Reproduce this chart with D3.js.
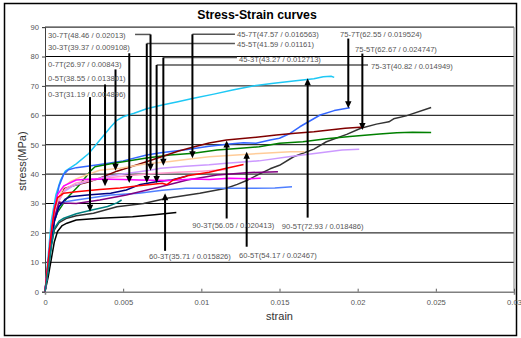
<!DOCTYPE html>
<html>
<head>
<meta charset="utf-8">
<script src="https://cdn.jsdelivr.net/npm/d3@7"></script>
<style>
  html, body { margin: 0; padding: 0; background: #fff; }
  svg { display: block; }
</style>
</head>
<body>
<svg id="chart" width="521" height="338"></svg>
<script>
// ---- measured curves: [strain, stress (MPa)] ----
const c0_3T = [[0,0],[0.0002,7],[0.0004,15],[0.0006,21.5],[0.0009,24],[0.0012,25],[0.002,26.5],[0.003,27.8],[0.004,29],[0.0046,30.2],[0.0049,31.19]];
const c0_5T = [[0,0],[0.0002,10],[0.0004,20],[0.0006,28],[0.0008,33],[0.0012,36],[0.002,38],[0.003,38.3],[0.005,38.2],[0.006,38],[0.008,37.8],[0.0095,38.3],[0.0105,38.2],[0.0118,38.6],[0.013,38.4],[0.0138,38.55]];
const c0_7T = [[0,0],[0.0002,5],[0.0004,11],[0.0006,17],[0.0008,20.5],[0.0011,22.5],[0.0014,23.3],[0.002,24.4],[0.0035,25],[0.0056,25.5],[0.007,26.2],[0.0084,26.97]];
const c30_3T = [[0,0],[0.0002,8],[0.0004,17],[0.0006,24],[0.0009,29],[0.0013,31.5],[0.0016,32.3],[0.0027,32.9],[0.0042,33.5],[0.0052,34.6],[0.0061,36.5],[0.0073,37.6],[0.0081,38],[0.0091,39.37]];
const c30_7T = [[0,0],[0.0003,13],[0.0006,25],[0.0009,31],[0.0012,34],[0.0018,36],[0.0027,37.5],[0.0038,39],[0.005,40],[0.0067,41.3],[0.0074,42],[0.009,42.7],[0.0105,43.2],[0.0116,43.7],[0.0137,44.5],[0.0157,46],[0.0175,47.2],[0.019,48.2],[0.0201,48.46]];
const c45_3T = [[0,0],[0.0002,10],[0.0004,20],[0.0006,28],[0.0008,32],[0.0012,33.5],[0.002,34],[0.0035,34.8],[0.0048,35.3],[0.006,36],[0.0075,36.9],[0.0078,36.4],[0.0082,38],[0.0091,39.4],[0.0105,40.6],[0.0116,42],[0.0127,43.27]];
const c45_5T = [[0,0],[0.0003,13],[0.0006,25],[0.0009,31],[0.0013,35],[0.002,37],[0.003,38],[0.0045,39],[0.0065,40],[0.0085,40.6],[0.01,41],[0.0116,41.59]];
const c45_7T = [[0,0],[0.0003,13],[0.0006,26],[0.0009,32],[0.0012,35.7],[0.0016,37.4],[0.0023,39],[0.0035,41.3],[0.0048,42],[0.0065,43.5],[0.008,44.3],[0.0094,45.2],[0.0105,45.9],[0.012,46.4],[0.0137,47],[0.0157,47.6],[0.0166,47.57]];
const c60_3T = [[0,0],[0.0002,8],[0.0004,17],[0.0006,24],[0.0009,29],[0.0012,30.5],[0.002,31.2],[0.0042,32.9],[0.006,33.5],[0.0075,34.5],[0.009,35.2],[0.011,35.2],[0.013,35.2],[0.0147,35.3],[0.0158,35.71]];
const c60_5T = [[0,0],[0.0003,12],[0.0006,24],[0.0008,27],[0.0014,31.8],[0.0022,36.3],[0.0029,41],[0.0032,42.5],[0.0042,43.5],[0.005,44.2],[0.0065,45.5],[0.008,46.5],[0.0095,47.1],[0.011,48.2],[0.0125,48.8],[0.0137,49.3],[0.015,50.5],[0.0165,51],[0.018,52],[0.0195,52.8],[0.0214,53.6],[0.0225,54.1],[0.0235,54.2],[0.0247,54.17]];
const c75_3T = [[0,0],[0.0002,9],[0.0004,18],[0.0006,25],[0.0009,30.5],[0.0012,30.2],[0.002,30],[0.0035,31.2],[0.0052,32.9],[0.0074,35.7],[0.0091,38],[0.011,39.7],[0.0129,40.5],[0.0149,40.82]];
const c75_5T = [[0,0],[0.0002,8],[0.0004,16],[0.0006,21],[0.0009,23.5],[0.0014,25],[0.002,25.8],[0.0031,26.7],[0.0046,28.9],[0.0063,30],[0.0078,31.8],[0.0099,33.5],[0.0116,35.2],[0.0123,36.5],[0.0129,37.8],[0.0137,40],[0.0144,41.8],[0.015,43],[0.0159,45.9],[0.0172,48.5],[0.018,51],[0.0193,53.5],[0.0202,55.6],[0.0212,57],[0.022,57.8],[0.0223,58.8],[0.0231,59.8],[0.0247,62.67]];
const c75_7T = [[0,0],[0.0003,15],[0.0006,28],[0.0009,36],[0.0012,40],[0.0015,41.5],[0.002,42.2],[0.0034,43.2],[0.005,44.5],[0.0065,46.5],[0.0074,47.3],[0.009,48.3],[0.0105,49.5],[0.0118,50.2],[0.0127,50.7],[0.0135,50.5],[0.0144,51.6],[0.015,52.2],[0.0157,53.9],[0.0163,56.1],[0.0176,60.1],[0.0185,61.6],[0.0195,62.55]];
const c90_3T = [[0,0],[0.0003,14],[0.0006,26],[0.0009,32],[0.0012,35],[0.0018,36],[0.0027,37.2],[0.0035,38.6],[0.0046,41],[0.0061,43.5],[0.0075,46],[0.0085,47.8],[0.0095,49.2],[0.0105,50.6],[0.0116,51.6],[0.0128,52.2],[0.0138,52.7],[0.0148,53.3],[0.016,53.9],[0.0172,54.4],[0.0182,55],[0.0192,55.6],[0.0204,56.05]];
const c90_5T = [[0,0],[0.0002,12],[0.0004,24],[0.0007,33],[0.001,38],[0.0013,41],[0.002,43.5],[0.0028,47],[0.0035,51.5],[0.0042,56],[0.0046,58.3],[0.005,59.5],[0.0057,60.7],[0.0065,62.2],[0.0075,63.5],[0.0085,64.6],[0.0095,65.8],[0.0108,67.2],[0.012,68.6],[0.0133,70],[0.0145,70.8],[0.0159,71.7],[0.0172,72.4],[0.0178,73.1],[0.0183,73.3],[0.0185,72.9]];

// axis ticks
const xTicks = [0, 0.005, 0.01, 0.015, 0.02, 0.025, 0.03];
const xTickLabels = ["0", "0.005", "0.01", "0.015", "0.02", "0.025", "0.03"];
const yTicks = [0, 10, 20, 30, 40, 50, 60, 70, 80, 90];

// annotation texts
const labelTexts = {
  "30-7T": "30-7T(48.46 / 0.02013)",
  "30-3T": "30-3T(39.37 / 0.009108)",
  "0-7T":  "0-7T(26.97 / 0.00843)",
  "0-5T":  "0-5T(38.55 / 0.013801)",
  "0-3T":  "0-3T(31.19 / 0.004896)",
  "45-7T": "45-7T(47.57 / 0.016563)",
  "45-5T": "45-5T(41.59 / 0.01161)",
  "45-3T": "45-3T(43.27 / 0.012713)",
  "75-7T": "75-7T(62.55 / 0.019524)",
  "75-5T": "75-5T(62.67 / 0.024747)",
  "75-3T": "75-3T(40.82 / 0.014949)",
  "90-3T": "90-3T(56.05 / 0.020413)",
  "90-5T": "90-5T(72.93 / 0.018486)",
  "60-3T": "60-3T(35.71 / 0.015826)",
  "60-5T": "60-5T(54.17 / 0.02467)"
};

// ---- drawing ----
const W = 521, H = 338;
const plot = { left: 45, right: 514, top: 27.1, bottom: 291.7 };

const x = d3.scaleLinear().domain([0, 0.03]).range([plot.left, plot.right]);
const y = d3.scaleLinear().domain([0, 90]).range([plot.bottom, plot.top]);

const svg = d3.select("#chart");
svg.append("rect").attr("x", 0).attr("y", 0).attr("width", W).attr("height", H).attr("fill", "#fff");
// chart frame
svg.append("rect").attr("x", 4.5).attr("y", 3.5).attr("width", 512).attr("height", 332)
  .attr("fill", "none").attr("stroke", "#000").attr("stroke-width", 1.5);

// title
svg.append("text").attr("x", 257).attr("y", 18.5).attr("text-anchor", "middle")
  .attr("font-family", "Liberation Sans, Arial, sans-serif").attr("font-weight", "bold")
  .attr("font-size", 12.3).attr("fill", "#000").text("Stress-Strain curves");

// horizontal grid
svg.append("g").selectAll("line").data(yTicks.filter(d => d > 0)).join("line")
  .attr("x1", plot.left).attr("x2", plot.right)
  .attr("y1", d => y(d)).attr("y2", d => y(d))
  .attr("stroke", "#000").attr("stroke-width", 1);

// right frame of plot
svg.append("line").attr("x1", plot.right).attr("x2", plot.right).attr("y1", plot.top).attr("y2", plot.bottom)
  .attr("stroke", "#808080").attr("stroke-width", 1);

// y axis
const yAxis = d3.axisLeft(y).tickValues(yTicks).tickSize(3).tickFormat(d3.format("d"));
const gy = svg.append("g").attr("transform", `translate(${plot.left},0)`).call(yAxis);
gy.select(".domain").attr("stroke", "#404040");
gy.selectAll(".tick line").attr("stroke", "#404040");
gy.selectAll(".tick text").attr("font-family", "Liberation Sans, Arial, sans-serif")
  .attr("font-size", 7.6).attr("fill", "#555").attr("x", -6);

// x axis
const xAxis = d3.axisBottom(x).tickValues(xTicks).tickSize(3)
  .tickFormat((d, i) => xTickLabels[i]);
const gx = svg.append("g").attr("transform", `translate(0,${plot.bottom})`).call(xAxis);
gx.select(".domain").attr("stroke", "#808080").attr("stroke-width", 1.5);
gx.selectAll(".tick line").attr("stroke", "#606060").attr("y2", -3);
gx.selectAll(".tick text").attr("font-family", "Liberation Sans, Arial, sans-serif")
  .attr("font-size", 7.6).attr("fill", "#555").attr("y", 8);

// axis titles
svg.append("text").attr("transform", `translate(26,161) rotate(-90)`).attr("text-anchor", "middle")
  .attr("font-family", "Liberation Sans, Arial, sans-serif").attr("font-size", 11)
  .attr("fill", "#333").text("stress(MPa)");
svg.append("text").attr("x", 279.5).attr("y", 320).attr("text-anchor", "middle")
  .attr("font-family", "Liberation Sans, Arial, sans-serif").attr("font-size", 11)
  .attr("fill", "#333").text("strain");

// curves
const series = [
  { name: "75-5T", pts: c75_5T }, { name: "0-7T", pts: c0_7T },
  { name: "90-5T", pts: c90_5T }, { name: "75-7T", pts: c75_7T },
  { name: "60-5T", pts: c60_5T }, { name: "90-3T", pts: c90_3T },
  { name: "45-7T", pts: c45_7T }, { name: "30-7T", pts: c30_7T },
  { name: "45-5T", pts: c45_5T }, { name: "60-3T", pts: c60_3T },
  { name: "75-3T", pts: c75_3T }, { name: "30-3T", pts: c30_3T },
  { name: "0-5T", pts: c0_5T }, { name: "45-3T", pts: c45_3T },
  { name: "0-3T", pts: c0_3T }
];
const colors = {
  "0-3T": "#008080", "0-5T": "#FF00FF", "0-7T": "#000000",
  "30-3T": "#000080", "30-7T": "#CC99FF",
  "45-3T": "#FF0000", "45-5T": "#FF99CC", "45-7T": "#FFCC99",
  "60-3T": "#4F7FFF", "60-5T": "#008000",
  "75-3T": "#800080", "75-5T": "#333333", "75-7T": "#3366FF",
  "90-3T": "#800000", "90-5T": "#1EC8F5"
};
const line = d3.line().x(d => x(d[0])).y(d => y(d[1]));
svg.append("g").selectAll("path").data(series).join("path")
  .attr("d", d => line(d.pts)).attr("fill", "none")
  .attr("stroke", d => colors[d.name]).attr("stroke-width", 1.5)
  .attr("stroke-linejoin", "round");

// annotations: label anchor, optional elbow connector level, arrow x, arrow start/tip (data units)
const notes = [
  { k: "30-7T", tx: 0.00019, ty: 87.3, cy: 87.5, cFrom: 0.00576, ax: 0.00675, a0: 87.5, a1: 41.1 },
  { k: "30-3T", tx: 0.00019, ty: 83.0, ax: 0.00539, a0: 81.1, a1: 37.0 },
  { k: "0-7T",  tx: 0.00019, ty: 77.35, ax: 0.00451, a0: 75.6, a1: 41.1 },
  { k: "0-5T",  tx: 0.00019, ty: 72.6, ax: 0.00384, a0: 70.5, a1: 35.9 },
  { k: "0-3T",  tx: 0.00019, ty: 67.25, ax: 0.00288, a0: 66.2, a1: 27.2 },
  { k: "45-7T", tx: 0.01228, ty: 87.4, cy: 87.55, cFrom: 0.01215, ax: 0.00943, a0: 87.55, a1: 45.4 },
  { k: "45-5T", tx: 0.01228, ty: 84.0, cy: 84.4, cFrom: 0.01215, ax: 0.00651, a0: 84.4, a1: 37.0 },
  { k: "45-3T", tx: 0.01241, ty: 79.2, cy: 79.66, cFrom: 0.01228, ax: 0.00757, a0: 79.66, a1: 42.8 },
  { k: "75-7T", tx: 0.01887, ty: 87.55, ax: 0.0194, a0: 86.1, a1: 62.4 },
  { k: "75-5T", tx: 0.01983, ty: 82.45, ax: 0.0203, a0: 81.0, a1: 55.0 },
  { k: "75-3T", tx: 0.02085, ty: 76.6, cy: 77.1, cFrom: 0.02066, ax: 0.00714, a0: 77.1, a1: 37.0 },
  { k: "90-3T", tx: 0.00942, ty: 22.7, ax: 0.01162, a0: 24.9, a1: 51.4 },
  { k: "90-5T", tx: 0.01514, ty: 22.2, ax: 0.0168, a0: 25.2, a1: 72.6 },
  { k: "60-3T", tx: 0.00665, ty: 12.1, ax: 0.00768, a0: 13.9, a1: 33.5 },
  { k: "60-5T", tx: 0.01241, ty: 12.3, ax: 0.0129, a0: 15.3, a1: 47.6 }
];

const ann = svg.append("g");
// connectors
ann.selectAll("line.conn").data(notes.filter(n => n.cy !== undefined)).join("line")
  .attr("class", "conn")
  .attr("x1", n => x(n.cFrom)).attr("x2", n => x(n.ax))
  .attr("y1", n => y(n.cy)).attr("y2", n => y(n.cy))
  .attr("stroke", "#555").attr("stroke-width", 1.5);
// arrow shafts
const headLen = 7, headHalf = 3.2;
ann.selectAll("line.shaft").data(notes).join("line")
  .attr("class", "shaft")
  .attr("x1", n => x(n.ax)).attr("x2", n => x(n.ax))
  .attr("y1", n => y(n.a0))
  .attr("y2", n => y(n.a1) + (y(n.a1) > y(n.a0) ? -headLen + 1 : headLen - 1))
  .attr("stroke", "#000").attr("stroke-width", 2);
// arrow heads
ann.selectAll("path.head").data(notes).join("path")
  .attr("class", "head")
  .attr("d", n => {
    const px = x(n.ax), tip = y(n.a1);
    const dir = tip > y(n.a0) ? -1 : 1;
    const base = tip + dir * headLen;
    return `M${px},${tip}L${px - headHalf},${base}L${px + headHalf},${base}Z`;
  })
  .attr("fill", "#000");
// label texts
ann.selectAll("text").data(notes).join("text")
  .attr("x", n => x(n.tx)).attr("y", n => y(n.ty))
  .attr("dy", "0.35em")
  .attr("font-family", "Liberation Sans, Arial, sans-serif").attr("font-size", 7.6)
  .attr("fill", "#555").text(n => labelTexts[n.k]);
</script>
</body>
</html>
